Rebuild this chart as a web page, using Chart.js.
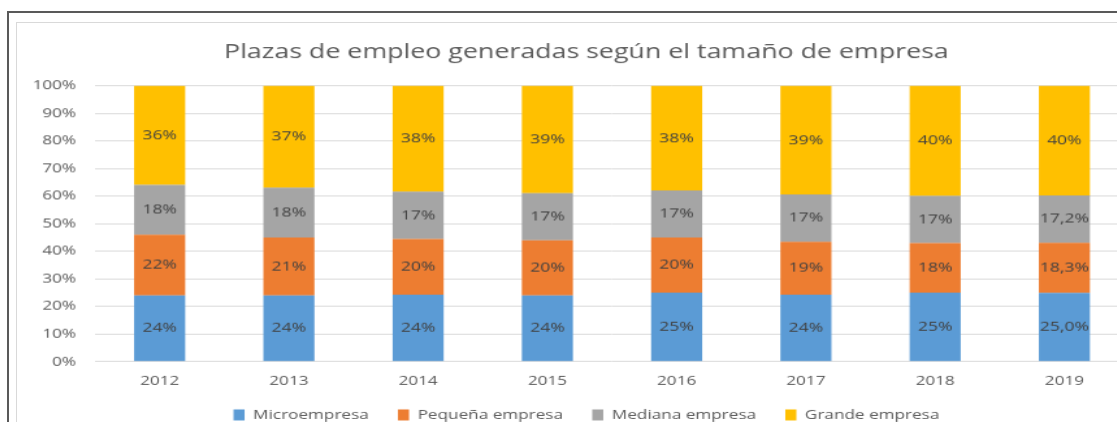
<!DOCTYPE html>
<html>
<head>
<meta charset="utf-8">
<title>Plazas de empleo</title>
<script src="https://cdn.jsdelivr.net/npm/chart.js@4.4.1/dist/chart.umd.min.js"></script>
<style>
  html, body { margin: 0; padding: 0; overflow: hidden; background: #fff; width: 1117px; height: 422px; }
  #frame { position: absolute; left: 7px; top: 11px; width: 1300px; height: 600px;
           border-top: 2px solid #595959; border-left: 2px solid #595959; }
  #border { position: absolute; left: 16px; top: 22px; width: 1300px; height: 600px;
            border-top: 1px solid #d9d9d9; border-left: 1px solid #d9d9d9; }
  /* the source picture is stretched sideways, so the chart is too */
  #wrap { position: absolute; left: 17px; top: 23px; width: 876px; height: 432.5px;
          transform: scaleX(1.3); transform-origin: 0 0; }
</style>
</head>
<body>
<div id="frame"></div>
<div id="border"></div>
<div id="wrap"><canvas id="empleoChart"></canvas></div>
<script>
const years = ['2012', '2013', '2014', '2015', '2016', '2017', '2018', '2019'];
const micro = [24, 24, 24, 24, 25, 24, 25, 25.0];
const pequena = [22, 21, 20, 20, 20, 19, 18, 18.3];
const mediana = [18, 18, 17, 17, 17, 17, 17, 17.2];
const grande = [36, 37, 38, 39, 38, 39, 40, 40];
const decimalYears = ['2019'];

// 100% stacked: each year is scaled to its own total, like the spreadsheet does
const totals = years.map((y, i) => micro[i] + pequena[i] + mediana[i] + grande[i]);
const share = arr => arr.map((v, i) => v / totals[i] * 100);

const FONT = '"Open Sans", sans-serif';
Chart.defaults.font.family = FONT;
Chart.defaults.color = '#595959';

const barLabels = {
  id: 'barLabels',
  afterDatasetsDraw(chart) {
    const ctx = chart.ctx;
    ctx.save();
    ctx.font = '13.5px ' + FONT;
    ctx.fillStyle = '#404040';
    ctx.textAlign = 'center';
    ctx.textBaseline = 'middle';
    chart.data.datasets.forEach((ds, i) => {
      chart.getDatasetMeta(i).data.forEach((bar, j) => {
        const v = ds.raw[j];
        let txt = v.toFixed(0);
        if (ds.decimals && decimalYears.includes(years[j])) txt = v.toFixed(1).replace('.', ',');
        ctx.fillText(txt + '%', bar.x, (bar.y + bar.base) / 2);
      });
    });
    ctx.restore();
  }
};

// wide gaps between legend items, but keep the row close to the year labels
const legendShift = {
  id: 'legendShift',
  afterLayout(chart) {
    chart.legend.top -= 15;
    chart.legend.bottom -= 15;
  }
};

const ctx = document.getElementById('empleoChart').getContext('2d');
new Chart(ctx, {
  type: 'bar',
  data: {
    labels: years,
    datasets: [
      { label: 'Microempresa', data: share(micro), raw: micro, decimals: true, backgroundColor: '#5B9BD5' },
      { label: 'Pequeña empresa', data: share(pequena), raw: pequena, decimals: true, backgroundColor: '#ED7D31' },
      { label: 'Mediana empresa', data: share(mediana), raw: mediana, decimals: true, backgroundColor: '#A5A5A5' },
      { label: 'Grande empresa', data: share(grande), raw: grande, decimals: false, backgroundColor: '#FFC000' }
    ]
  },
  options: {
    responsive: true,
    maintainAspectRatio: false,
    animation: false,
    datasets: { bar: { barPercentage: 0.395, categoryPercentage: 1 } },
    layout: { padding: { left: 0, right: 0, top: 0, bottom: 10 } },
    plugins: {
      tooltip: { enabled: false },
      title: {
        display: true,
        text: 'Plazas de empleo generadas según el tamaño de empresa',
        color: '#595959',
        font: { size: 20.6, weight: 'normal' },
        padding: { top: 16.6, bottom: 21.2 }
      },
      legend: {
        position: 'bottom',
        labels: { boxWidth: 8.5, boxHeight: 11, padding: 22.5, color: '#595959', font: { size: 13.2 } }
      }
    },
    scales: {
      x: {
        stacked: true,
        grid: { display: false, drawTicks: false },
        border: { display: false },
        ticks: { padding: 11.6, color: '#595959', font: { size: 13.2 } }
      },
      y: {
        stacked: true,
        min: 0,
        max: 100,
        ticks: { stepSize: 10, padding: 14.6, color: '#595959', font: { size: 13.2 }, callback: v => v + '%' },
        grid: { color: '#d9d9d9', drawTicks: false },
        border: { display: false },
        afterFit: s => { s.width = 60; }
      },
      // empty strip on the right so the plot ends where the original does
      yRight: {
        position: 'right',
        display: true,
        grid: { display: false },
        border: { display: false },
        ticks: { display: false },
        afterFit: s => { s.width = 20.6; }
      }
    }
  },
  plugins: [barLabels, legendShift]
});
</script>
</body>
</html>
